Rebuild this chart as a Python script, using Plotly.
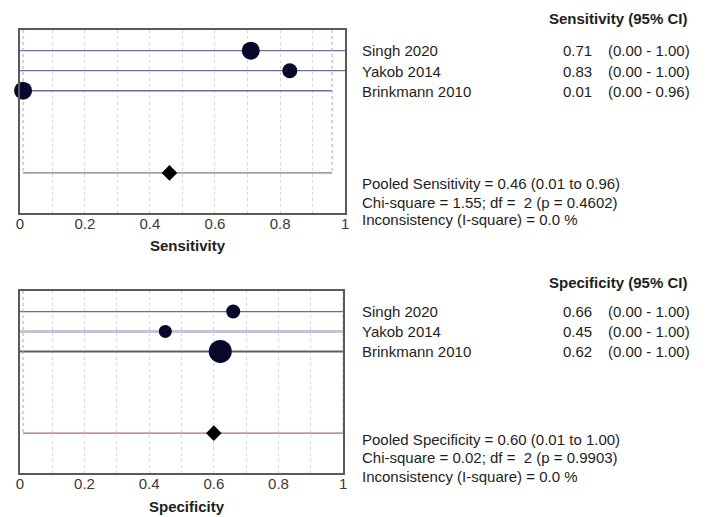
import plotly.graph_objects as go

W, H = 708, 517

# ---------------- data ----------------
studies = ["Singh 2020", "Yakob 2014", "Brinkmann 2010"]

sens = [0.71, 0.83, 0.01]
sens_lo = [0.00, 0.00, 0.00]
sens_hi = [1.00, 1.00, 0.96]
sens_weight = [18, 15, 18]          # marker diameters (study weight)
sens_pooled = 0.46
sens_pooled_lo = 0.01
sens_pooled_hi = 0.96
sens_chi = "1.55"
sens_df = 2
sens_p = "0.4602"
sens_i2 = "0.0"

spec = [0.66, 0.45, 0.62]
spec_lo = [0.00, 0.00, 0.00]
spec_hi = [1.00, 1.00, 1.00]
spec_weight = [14, 13, 23]
spec_pooled = 0.60
spec_pooled_lo = 0.01
spec_pooled_hi = 1.00
spec_chi = "0.02"
spec_df = 2
spec_p = "0.9903"
spec_i2 = "0.0"

tick_vals = [0, 0.2, 0.4, 0.6, 0.8, 1]
tick_text = ["0", "0.2", "0.4", "0.6", "0.8", "1"]

# ---------------- helpers ----------------
def px(x):
    return x / W

def py(y):
    return 1 - y / H

FONT = "Liberation Sans, Arial, sans-serif"
TXT = "#1e1e1e"
FS = 15

rows = [0, 1, 2]
pooled_row = 6.1
YRANGE = [8.1, -1.03]

fig = go.Figure()

panels = [
    dict(xa="x", ya="y", est=sens, lo=sens_lo, hi=sens_hi, w=sens_weight,
         pooled=sens_pooled, plo=sens_pooled_lo, phi=sens_pooled_hi,
         line_cols=["#6c6c98", "#6c6c98", "#6c6c98"], line_w=[1.3, 1.3, 1.3],
         pooled_col="#8a7480"),
    dict(xa="x2", ya="y2", est=spec, lo=spec_lo, hi=spec_hi, w=spec_weight,
         pooled=spec_pooled, plo=spec_pooled_lo, phi=spec_pooled_hi,
         line_cols=["#6c6c98", "#c4c4d4", "#5c5c70"], line_w=[1.3, 3, 2],
         pooled_col="#b06a78"),
]

for p in panels:
    # study CI lines
    for i, r in enumerate(rows):
        fig.add_trace(go.Scatter(
            x=[p["lo"][i], p["hi"][i]], y=[r, r], mode="lines",
            line=dict(color=p["line_cols"][i], width=p["line_w"][i]),
            xaxis=p["xa"], yaxis=p["ya"], showlegend=False, hoverinfo="skip"))
    # pooled CI dashed verticals
    for xv in (p["plo"], p["phi"]):
        fig.add_trace(go.Scatter(
            x=[xv, xv], y=[YRANGE[1], pooled_row], mode="lines",
            line=dict(color="#d49aa8", width=1, dash="dot"),
            xaxis=p["xa"], yaxis=p["ya"], showlegend=False, hoverinfo="skip"))
    # pooled line
    fig.add_trace(go.Scatter(
        x=[p["plo"], p["phi"]], y=[pooled_row, pooled_row], mode="lines",
        line=dict(color=p["pooled_col"], width=1.3),
        xaxis=p["xa"], yaxis=p["ya"], showlegend=False, hoverinfo="skip"))
    # study points
    fig.add_trace(go.Scatter(
        x=p["est"], y=rows, mode="markers", cliponaxis=False,
        marker=dict(color="#08082a", size=p["w"], opacity=1, line=dict(width=0)),
        xaxis=p["xa"], yaxis=p["ya"], showlegend=False))
    # pooled diamond
    fig.add_trace(go.Scatter(
        x=[p["pooled"]], y=[pooled_row], mode="markers", cliponaxis=False,
        marker=dict(color="#000000", size=12, symbol="diamond", opacity=1),
        xaxis=p["xa"], yaxis=p["ya"], showlegend=False))

axis_common = dict(
    range=[0, 1], tickvals=tick_vals, ticktext=tick_text,
    showgrid=True, gridcolor="#d8d8d8", griddash="dot", gridwidth=1,
    minor=dict(dtick=0.1, showgrid=True, gridcolor="#d8d8d8", griddash="dot"),
    showline=True, linecolor="#5a5a5a", linewidth=1.5, mirror=True,
    ticks="", zeroline=False, ticklabelstandoff=-4,
    tickfont=dict(family=FONT, size=15, color="#3a3a3a"),
)
yaxis_common = dict(range=YRANGE, showticklabels=False, showgrid=False,
                    zeroline=False, showline=True, linecolor="#5a5a5a",
                    linewidth=1.5, mirror=True, ticks="")

fig.update_layout(
    width=W, height=H,
    margin=dict(l=0, r=0, t=0, b=0),
    paper_bgcolor="white", plot_bgcolor="white",
    xaxis=dict(domain=[px(16), px(345)], anchor="y", **axis_common),
    yaxis=dict(domain=[py(213), py(30)], anchor="x", **yaxis_common),
    xaxis2=dict(domain=[px(16), px(343)], anchor="y2", **axis_common),
    yaxis2=dict(domain=[py(473), py(291)], anchor="x2", **yaxis_common),
)

ann = []

def text(x, y, s, bold=False, size=FS, anchor="left"):
    ann.append(dict(x=px(x), y=py(y), xref="paper", yref="paper",
                    text=f"<b>{s}</b>" if bold else s, showarrow=False,
                    xanchor=anchor, yanchor="middle",
                    font=dict(family=FONT, size=size, color=TXT)))

def table(top_header_y, row_ys, header, est, lo, hi, pooled_label, pooled, plo, phi,
          chi, df, pval, i2, stats_ys):
    text(549, top_header_y, header, bold=True)
    for i, s in enumerate(studies):
        text(360, row_ys[i], s)
        text(563, row_ys[i], f"{est[i]:.2f}")
        text(609, row_ys[i], f"({lo[i]:.2f} - {hi[i]:.2f})")
    text(360, stats_ys[0], f"Pooled {pooled_label} = {pooled:.2f} ({plo:.2f} to {phi:.2f})")
    text(360, stats_ys[1], f"Chi-square = {chi}; df =  {df} (p = {pval})")
    text(360, stats_ys[2], f"Inconsistency (I-square) = {i2} %")

table(18, [51, 71, 91], "Sensitivity (95% CI)", sens, sens_lo, sens_hi,
      "Sensitivity", sens_pooled, sens_pooled_lo, sens_pooled_hi,
      sens_chi, sens_df, sens_p, sens_i2, [183, 202, 220])
table(282, [311, 331, 351], "Specificity (95% CI)", spec, spec_lo, spec_hi,
      "Specificity", spec_pooled, spec_pooled_lo, spec_pooled_hi,
      spec_chi, spec_df, spec_p, spec_i2, [439, 457, 476])

# axis titles
text(186, 245, "Sensitivity", bold=True, anchor="center")
text(185, 506, "Specificity", bold=True, anchor="center")

fig.update_layout(annotations=ann)
fig.write_html("out.html", config={"displayModeBar": False},
               post_script="document.body.style.margin='0';document.body.style.overflow='hidden';")
